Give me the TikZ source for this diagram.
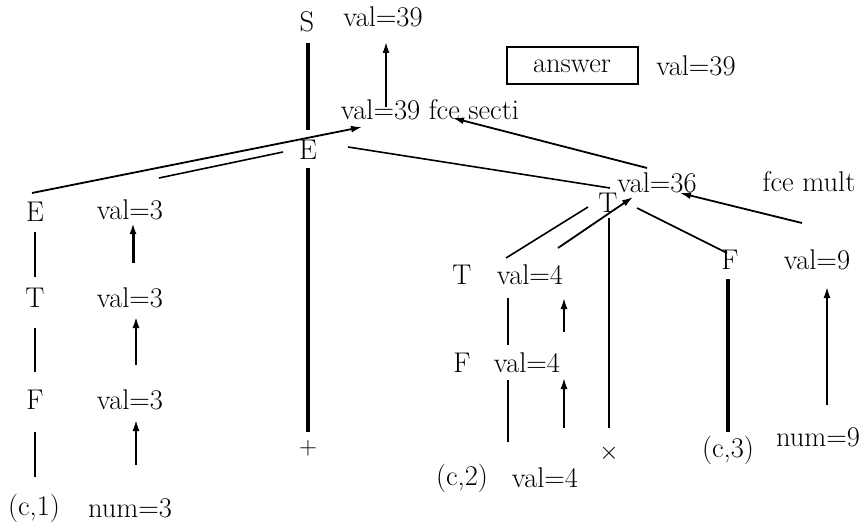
\documentclass[tikz,border=0pt]{standalone}
\usetikzlibrary{arrows.meta}
\begin{document}
\begin{tikzpicture}[x=1pt,y=-1pt,
  lbl/.style={inner sep=0pt, font=\fontsize{28.5}{33}\selectfont},
  edgeline/.style={line width=1.6pt},
  boldline/.style={line width=3.2pt},
  valarrow/.style={line width=1.8pt,-{Latex[length=11pt,width=7pt]}},
  boldarrow/.style={line width=3pt,-{Latex[length=11pt,width=7pt]}},
  answerbox/.style={draw, line width=2pt, minimum width=131pt, minimum height=37pt, inner sep=0pt, font=\fontsize{28.5}{33}\selectfont}]
\useasboundingbox (0,0) rectangle (862,524);

% ---- text nodes ----
\node[lbl] (S) at (307,22) {S};
\node[lbl] (topval) at (383,17) {val=39};
\node[answerbox] (answer) at (572,66) {answer};
\node[lbl] (ansval) at (696,66) {val=39};
\node[lbl] (secti) at (430,110) {val=39 fce secti};
\node[lbl] (Emid) at (308,150) {E};
\node[lbl] (plus) at (308,448) {$+$};

\node[lbl] (Eleft) at (35,212) {E};
\node[lbl] (Tleft) at (35,298) {T};
\node[lbl] (Fleft) at (35,400) {F};
\node[lbl] (c1) at (34,508) {(c,1)};
\node[lbl] (v3a) at (130,210) {val=3};
\node[lbl] (v3b) at (130,298) {val=3};
\node[lbl] (v3c) at (130,400) {val=3};
\node[lbl] (num3) at (130,508) {num=3};

\node[lbl] (Tr) at (608,203) {T};
\node[lbl] (val36) at (657,183) {val=36};
\node[lbl] (fcemult) at (809,182) {fce mult};

\node[lbl] (Tm) at (462,275) {T};
\node[lbl] (v4a) at (530,275) {val=4};
\node[lbl] (Fm) at (462,363) {F};
\node[lbl] (v4b) at (527,363) {val=4};
\node[lbl] (c2) at (462,478) {(c,2)};
\node[lbl] (v4c) at (545,478) {val=4};
\node[lbl] (times) at (609,453) {$\times$};

\node[lbl] (F3) at (730,260) {F};
\node[lbl] (val9) at (817,260) {val=9};
\node[lbl] (c3) at (728,450) {(c,3)};
\node[lbl] (num9) at (818,437) {num=9};

% ---- connector end points ----
\coordinate (sa) at (308,43);   \coordinate (sb) at (308,130);
\coordinate (ea) at (308,168);  \coordinate (eb) at (308,432);
\coordinate (ta) at (386,107);  \coordinate (tb) at (386,42);
\coordinate (la) at (32,193);   \coordinate (lb) at (362,127);
\coordinate (ma) at (159,178);  \coordinate (mb) at (283,152);
\coordinate (ra) at (348,147);  \coordinate (rb) at (610,188);
\coordinate (qa) at (647,168);  \coordinate (qb) at (453,118);
\coordinate (pa) at (802,223);  \coordinate (pb) at (680,193);

\coordinate (l1a) at (35,232);  \coordinate (l1b) at (35,277);
\coordinate (l2a) at (35,328);  \coordinate (l2b) at (35,372);
\coordinate (l3a) at (35,432);  \coordinate (l3b) at (35,477);
\coordinate (a1a) at (133,263); \coordinate (a1b) at (133,223);
\coordinate (a2a) at (136,365); \coordinate (a2b) at (136,317);
\coordinate (a3a) at (136,465); \coordinate (a3b) at (136,420);

\coordinate (na) at (506,258);  \coordinate (nb) at (588,207);
\coordinate (oa) at (558,248);  \coordinate (ob) at (633,197);
\coordinate (m1a) at (508,298); \coordinate (m1b) at (508,345);
\coordinate (m2a) at (508,380); \coordinate (m2b) at (508,442);
\coordinate (b1a) at (564,332); \coordinate (b1b) at (564,298);
\coordinate (b2a) at (564,428); \coordinate (b2b) at (564,378);
\coordinate (xa) at (609,218);  \coordinate (xb) at (609,428);
\coordinate (fa) at (637,208);  \coordinate (fb) at (727,253);
\coordinate (ga) at (728,279);  \coordinate (gb) at (728,432);
\coordinate (ha) at (827,405);  \coordinate (hb) at (827,287);

% ---- connectors ----
\draw[boldline] (sa) -- (sb);
\draw[boldline] (ea) -- (eb);
\draw[valarrow] (ta) -- (tb);
\draw[valarrow] (la) -- (lb);
\draw[edgeline] (ma) -- (mb);
\draw[edgeline] (ra) -- (rb);
\draw[valarrow] (qa) -- (qb);
\draw[valarrow] (pa) -- (pb);

\draw[edgeline] (l1a) -- (l1b);
\draw[edgeline] (l2a) -- (l2b);
\draw[edgeline] (l3a) -- (l3b);
\draw[boldarrow] (a1a) -- (a1b);
\draw[valarrow] (a2a) -- (a2b);
\draw[valarrow] (a3a) -- (a3b);

\draw[edgeline] (na) -- (nb);
\draw[valarrow] (oa) -- (ob);
\draw[edgeline] (m1a) -- (m1b);
\draw[edgeline] (m2a) -- (m2b);
\draw[valarrow] (b1a) -- (b1b);
\draw[valarrow] (b2a) -- (b2b);
\draw[edgeline] (xa) -- (xb);
\draw[edgeline] (fa) -- (fb);
\draw[boldline] (ga) -- (gb);
\draw[valarrow] (ha) -- (hb);
\end{tikzpicture}
\end{document}
